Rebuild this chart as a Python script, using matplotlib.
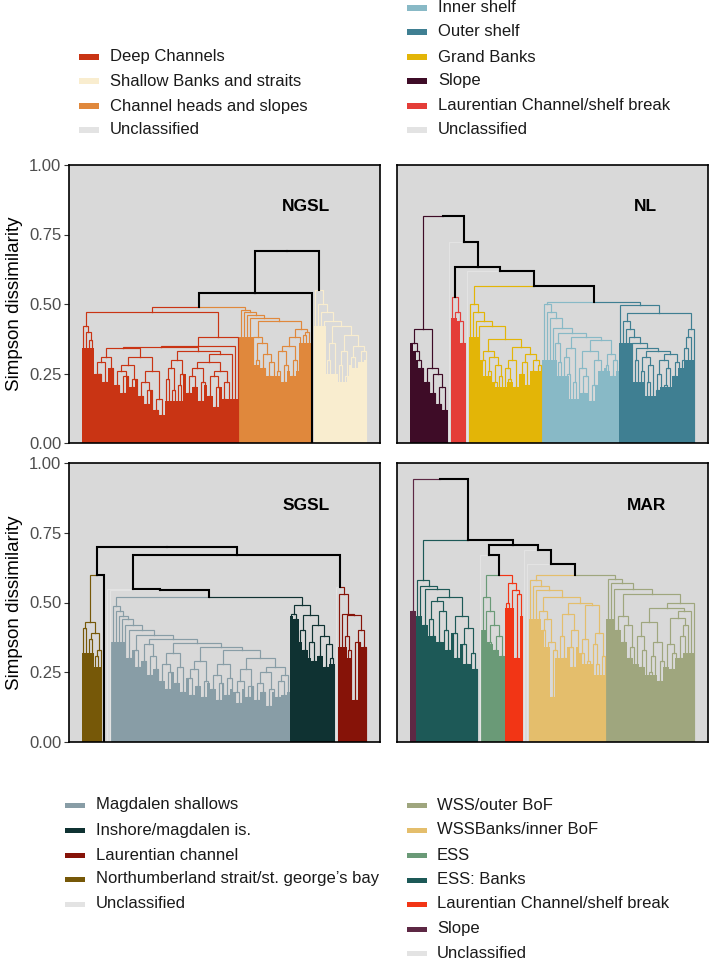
import numpy as np
import matplotlib
matplotlib.use("Agg")
import matplotlib.pyplot as plt
from matplotlib.collections import LineCollection
from matplotlib.patches import Rectangle

plt.rcParams["font.family"] = ["Liberation Sans", "DejaVu Sans"]

# ---------------------------------------------------------------------------
# data: per panel, clusters in leaf order, the merge heights between
# neighbouring leaves inside each cluster, the heights at which neighbouring
# clusters join, and the rough height of the dense (solid) part of each
# cluster read from left to right
# ---------------------------------------------------------------------------
NGSL_CLUSTERS = ["Deep Channels", "Channel heads and slopes", "Unclassified",
                 "Shallow Banks and straits"]
NGSL_GAPS = [
    [0.42, 0.40, 0.37, 0.47, 0.25, 0.25, 0.29, 0.22, 0.31, 0.27, 0.34, 0.21, 0.26,
     0.18, 0.24, 0.28, 0.20, 0.23, 0.31, 0.17, 0.22, 0.14, 0.19, 0.26, 0.12, 0.16,
     0.10, 0.345, 0.23, 0.27, 0.19, 0.30, 0.21, 0.25, 0.33, 0.18, 0.24, 0.20, 0.27,
     0.15, 0.22, 0.29, 0.17, 0.24, 0.13, 0.20, 0.26, 0.16, 0.22, 0.32, 0.35, 0.38],
    [0.48, 0.47, 0.46, 0.45, 0.38, 0.30, 0.36, 0.27, 0.32, 0.24, 0.29, 0.44, 0.26,
     0.33, 0.22, 0.28, 0.35, 0.24, 0.30, 0.38, 0.41, 0.39, 0.40],
    [],
    [0.55, 0.50, 0.47, 0.44, 0.30, 0.36, 0.25, 0.42, 0.28, 0.33, 0.24, 0.39, 0.31,
     0.27, 0.35, 0.29, 0.33],
]
NGSL_JOINS = [0.49, 0.54, 0.69]
NGSL_JOIN_EDGES = ["cc", "kk", "kk"]
NGSL_BODY = [
    [0.34, 0.29, 0.25, 0.21, 0.15, 0.27, 0.21, 0.16],
    [0.38, 0.28, 0.24, 0.26, 0.36],
    [],
    [0.42, 0.25, 0.22, 0.28, 0.30],
]

NL_CLUSTERS = ["Slope", "Unclassified", "Laurentian Channel/shelf break", "Unclassified",
               "Grand Banks", "Inner shelf", "Outer shelf"]
NL_GAPS = [
    [0.36, 0.33, 0.30, 0.27, 0.41, 0.22, 0.27, 0.18, 0.25, 0.14, 0.20, 0.12],
    [],
    [0.525, 0.47, 0.44, 0.36],
    [],
    [0.50, 0.47, 0.44, 0.42, 0.30, 0.33, 0.26, 0.31, 0.22, 0.28, 0.24, 0.374, 0.27,
     0.23, 0.30, 0.20, 0.346, 0.25, 0.29, 0.21, 0.32, 0.26, 0.30, 0.28],
    [0.50, 0.47, 0.45, 0.414, 0.36, 0.29, 0.395, 0.31, 0.25, 0.34, 0.22, 0.38, 0.27,
     0.18, 0.24, 0.33, 0.15, 0.21, 0.30, 0.26, 0.37, 0.28, 0.32, 0.24, 0.30],
    [0.496, 0.44, 0.41, 0.38, 0.36, 0.30, 0.34, 0.26, 0.31, 0.22, 0.28, 0.33, 0.19,
     0.25, 0.30, 0.21, 0.27, 0.32, 0.24, 0.29, 0.466, 0.30, 0.34, 0.38, 0.41],
]
NL_JOINS = [0.817, 0.724, 0.632, 0.620, 0.566, 0.508]
NL_JOIN_EDGES = ["ck", "ck", "kk", "ck", "cc", "cc"]
NL_BODY = [
    [0.38, 0.33, 0.28, 0.26, 0.22],
    [],
    [0.45, 0.38],
    [],
    [0.38, 0.24, 0.20, 0.22, 0.27, 0.26],
    [0.30, 0.24, 0.16, 0.18, 0.27, 0.26],
    [0.36, 0.22, 0.17, 0.20, 0.27, 0.30],
]

SGSL_CLUSTERS = ["Northumberland strait/st. george’s bay", "Unclassified", "Unclassified",
                 "Unclassified", "Magdalen shallows", "Inshore/magdalen is.",
                 "Unclassified", "Laurentian channel"]
SGSL_GAPS = [
    [0.41, 0.43, 0.37, 0.39, 0.31, 0.33],
    [],
    [],
    [],
    [0.487, 0.47, 0.45, 0.44, 0.42, 0.30, 0.40, 0.33, 0.27, 0.384,
     0.29, 0.35, 0.24, 0.31, 0.26, 0.37, 0.22, 0.28, 0.19, 0.25,
     0.32, 0.21, 0.27, 0.18, 0.355, 0.23, 0.17, 0.26, 0.20, 0.29,
     0.16, 0.22, 0.34, 0.19, 0.24, 0.15, 0.21, 0.28, 0.17, 0.23,
     0.33, 0.18, 0.14, 0.22, 0.26, 0.16, 0.20, 0.30, 0.15, 0.21,
     0.18, 0.25, 0.13, 0.19, 0.27, 0.16, 0.22, 0.17, 0.24],
    [0.46, 0.44, 0.49, 0.40, 0.33, 0.455, 0.36, 0.29, 0.42, 0.31, 0.38, 0.27, 0.35, 0.30],
    [],
    [0.53, 0.46, 0.38, 0.33, 0.455, 0.15, 0.36, 0.40, 0.34],
]
SGSL_JOINS = [0.598, 0.70, 0.547, 0.545, 0.52, 0.67, 0.556]
SGSL_JOIN_EDGES = ["ck", "kk", "ck", "ck", "cc", "kk", "cc"]
SGSL_BODY = [
    [0.32, 0.27],
    [],
    [],
    [],
    [0.36, 0.32, 0.27, 0.24, 0.21, 0.19, 0.20, 0.18],
    [0.45, 0.36, 0.30, 0.33, 0.28],
    [],
    [0.34, 0.30, 0.37, 0.36],
]

MAR_CLUSTERS = ["Slope", "ESS: Banks", "Unclassified", "ESS", "Laurentian Channel/shelf break",
                "Unclassified", "Unclassified", "WSSBanks/inner BoF", "WSS/outer BoF"]
MAR_GAPS = [
    [0.47],
    [0.58, 0.56, 0.42, 0.547, 0.44, 0.38, 0.505, 0.36, 0.47, 0.40, 0.33, 0.52, 0.39,
     0.30, 0.45, 0.35, 0.28, 0.41, 0.32, 0.26],
    [],
    [0.52, 0.47, 0.36, 0.42, 0.33, 0.38, 0.31],
    [0.50, 0.57, 0.545, 0.30, 0.53],
    [],
    [],
    [0.58, 0.56, 0.545, 0.47, 0.40, 0.44, 0.36, 0.16, 0.33, 0.52, 0.38, 0.30, 0.46,
     0.34, 0.27, 0.40, 0.50, 0.32, 0.37, 0.29, 0.49, 0.35, 0.28, 0.39, 0.31],
    [0.585, 0.57, 0.55, 0.40, 0.45, 0.36, 0.42, 0.30, 0.34, 0.53, 0.38, 0.27, 0.33,
     0.43, 0.25, 0.31, 0.36, 0.22, 0.29, 0.48, 0.35, 0.26, 0.32, 0.445, 0.30, 0.38,
     0.42, 0.47, 0.50],
]
MAR_JOINS = [0.943, 0.724, 0.67, 0.60, 0.705, 0.688, 0.638, 0.60]
MAR_JOIN_EDGES = ["ck", "ck", "ck", "cc", "kk", "ck", "ck", "cc"]
MAR_BODY = [
    [0.47],
    [0.45, 0.38, 0.36, 0.42, 0.36, 0.28],
    [],
    [0.40, 0.35, 0.33],
    [0.48, 0.45],
    [],
    [],
    [0.44, 0.34, 0.30, 0.34, 0.28, 0.24],
    [0.44, 0.38, 0.28, 0.24, 0.27, 0.30, 0.32],
]

# legend order as in the figure
LEG_NGSL = ["Deep Channels", "Shallow Banks and straits", "Channel heads and slopes",
            "Unclassified"]
LEG_NL = ["Inner shelf", "Outer shelf", "Grand Banks", "Slope",
          "Laurentian Channel/shelf break", "Unclassified"]
LEG_SGSL = ["Magdalen shallows", "Inshore/magdalen is.", "Laurentian channel",
            "Northumberland strait/st. george’s bay", "Unclassified"]
LEG_MAR = ["WSS/outer BoF", "WSSBanks/inner BoF", "ESS", "ESS: Banks",
           "Laurentian Channel/shelf break", "Slope", "Unclassified"]

PALE = "#E3E3E3"
COL_NGSL = {"Deep Channels": "#C93414", "Shallow Banks and straits": "#F9EDCF",
            "Channel heads and slopes": "#E0883C", "Unclassified": PALE}
COL_NL = {"Inner shelf": "#88B9C6", "Outer shelf": "#3F7F92", "Grand Banks": "#E3B507",
          "Slope": "#3E0C27", "Laurentian Channel/shelf break": "#E43D38",
          "Unclassified": PALE}
COL_SGSL = {"Magdalen shallows": "#889DA6", "Inshore/magdalen is.": "#0F3232",
            "Laurentian channel": "#861308", "Northumberland strait/st. george’s bay": "#765808",
            "Unclassified": PALE}
COL_MAR = {"WSS/outer BoF": "#9FA67E", "WSSBanks/inner BoF": "#E4BE6C", "ESS": "#6A9A77",
           "ESS: Banks": "#1D5957", "Laurentian Channel/shelf break": "#F23515",
           "Slope": "#5D2844", "Unclassified": PALE}

BG = "#D9D9D9"
W, H = 709, 960


def build_tree(gaps, lo, hi):
    if lo == hi:
        return {"x": lo + 1.0, "h": 0.0, "lo": lo, "hi": hi, "leaf": True}
    k = lo + int(np.argmax(gaps[lo:hi]))
    left = build_tree(gaps, lo, k)
    right = build_tree(gaps, k + 1, hi)
    return {"x": (left["x"] + right["x"]) / 2, "h": gaps[k], "lo": lo, "hi": hi,
            "k": k, "leaf": False, "left": left, "right": right}


def draw_panel(ax, names, gaps_list, joins, edges, body, colors):
    leaf_cluster = []
    all_gaps = []
    for ci, g in enumerate(gaps_list):
        leaf_cluster += [ci] * (len(g) + 1)
        all_gaps += list(g)
        if ci < len(joins):
            all_gaps.append(joins[ci])
    leaf_cluster = np.array(leaf_cluster)
    n = len(leaf_cluster)
    root = build_tree(np.array(all_gaps), 0, n - 1)

    segs_c, cols_c, segs_k = [], [], []
    leaf_h = np.zeros(n)

    def single(node):
        c = set(leaf_cluster[node["lo"]:node["hi"] + 1].tolist())
        return c.pop() if len(c) == 1 else None

    stack = [root]
    while stack:
        node = stack.pop()
        if node["leaf"]:
            continue
        own = single(node)
        for side, child in ((0, node["left"]), (1, node["right"])):
            cc = single(child)
            if own is not None:
                col = colors[names[own]]
            else:
                flag = edges[leaf_cluster[node["k"]]][side]
                col = colors[names[cc]] if (flag == "c" and cc is not None) else None
            pts = [(child["x"], child["h"]), (child["x"], node["h"]), (node["x"], node["h"])]
            if col is None:
                segs_k.append(pts)
            else:
                segs_c.append(pts)
                cols_c.append(col)
            if child["leaf"]:
                leaf_h[child["lo"]] = node["h"]
            stack.append(child)

    # solid lower part of every cluster, as a step outline
    for ci, b in enumerate(body):
        if not b:
            continue
        idx = np.where(leaf_cluster == ci)[0]
        m = len(idx)
        seg = (np.arange(m) * len(b)) // m
        hs = np.minimum(leaf_h[idx], np.array(b)[seg])
        xs = idx + 1.0
        ax.fill_between(np.r_[xs - 0.5, xs[-1] + 0.5], np.r_[hs, hs[-1]], step="post",
                        color=colors[names[ci]], lw=0, zorder=1)

    ax.add_collection(LineCollection(segs_c, colors=cols_c, linewidths=0.85,
                                     joinstyle="miter", capstyle="projecting", zorder=2))
    ax.add_collection(LineCollection(segs_k, colors="black", linewidths=1.5,
                                     joinstyle="miter", capstyle="projecting", zorder=3))
    pad = 0.05 * (n - 1)
    ax.set_xlim(1 - pad, n + pad)
    ax.set_ylim(0, 1)


def style_axes(ax, title, tx, ty, show_y):
    ax.set_facecolor(BG)
    for s in ax.spines.values():
        s.set_color("black")
        s.set_linewidth(1.2)
    ax.set_xticks([])
    ax.set_yticks([0, 0.25, 0.5, 0.75, 1.0])
    if show_y:
        ax.set_yticklabels(["0.00", "0.25", "0.50", "0.75", "1.00"])
        ax.tick_params(axis="y", length=3.5, width=0.8, color="#333333",
                       labelsize=12, labelcolor="#4D4D4D", pad=2)
        ax.set_ylabel("Simpson dissimilarity", fontsize=13.5, labelpad=4)
    else:
        ax.tick_params(axis="y", length=0, labelleft=False)
    ax.text(tx, ty, title, transform=ax.transAxes, ha="center", va="center",
            fontsize=12.5, fontweight="bold", color="black")


def legend(fig, labels, colors, key_x, text_x, rows):
    for lab, y in zip(labels, rows):
        fig.add_artist(Rectangle((key_x / W, 1 - (y + 2.5) / H), 20 / W, 5 / H,
                                 transform=fig.transFigure, color=colors[lab], lw=0))
        fig.text(text_x / W, 1 - y / H, lab, ha="left", va="center",
                 fontsize=12, color="#1A1A1A")


fig = plt.figure(figsize=(W / 100, H / 100), dpi=100)

boxes = {
    "NGSL": (69, 165, 311, 278),
    "NL": (397, 165, 311, 278),
    "SGSL": (69, 463, 311, 279),
    "MAR": (397, 463, 311, 279),
}
axs = {}
for key, (x0, y0, w, h) in boxes.items():
    axs[key] = fig.add_axes([x0 / W, 1 - (y0 + h) / H, w / W, h / H])

draw_panel(axs["NGSL"], NGSL_CLUSTERS, NGSL_GAPS, NGSL_JOINS, NGSL_JOIN_EDGES, NGSL_BODY, COL_NGSL)
draw_panel(axs["NL"], NL_CLUSTERS, NL_GAPS, NL_JOINS, NL_JOIN_EDGES, NL_BODY, COL_NL)
draw_panel(axs["SGSL"], SGSL_CLUSTERS, SGSL_GAPS, SGSL_JOINS, SGSL_JOIN_EDGES, SGSL_BODY, COL_SGSL)
draw_panel(axs["MAR"], MAR_CLUSTERS, MAR_GAPS, MAR_JOINS, MAR_JOIN_EDGES, MAR_BODY, COL_MAR)

style_axes(axs["NGSL"], "NGSL", 0.762, 0.85, True)
style_axes(axs["NL"], "NL", 0.80, 0.85, False)
style_axes(axs["SGSL"], "SGSL", 0.762, 0.846, True)
style_axes(axs["MAR"], "MAR", 0.804, 0.846, False)

legend(fig, LEG_NGSL, COL_NGSL, 79, 110, [57, 81, 106, 130])
legend(fig, LEG_NL, COL_NL, 407, 438, [8, 32, 57, 81, 106, 130])
legend(fig, LEG_SGSL, COL_SGSL, 65, 96, [805, 830, 855, 879, 904])
legend(fig, LEG_MAR, COL_MAR, 407, 437, [805, 830, 855, 880, 904, 929, 953])

fig.savefig("out.png", dpi=100, facecolor="white")
